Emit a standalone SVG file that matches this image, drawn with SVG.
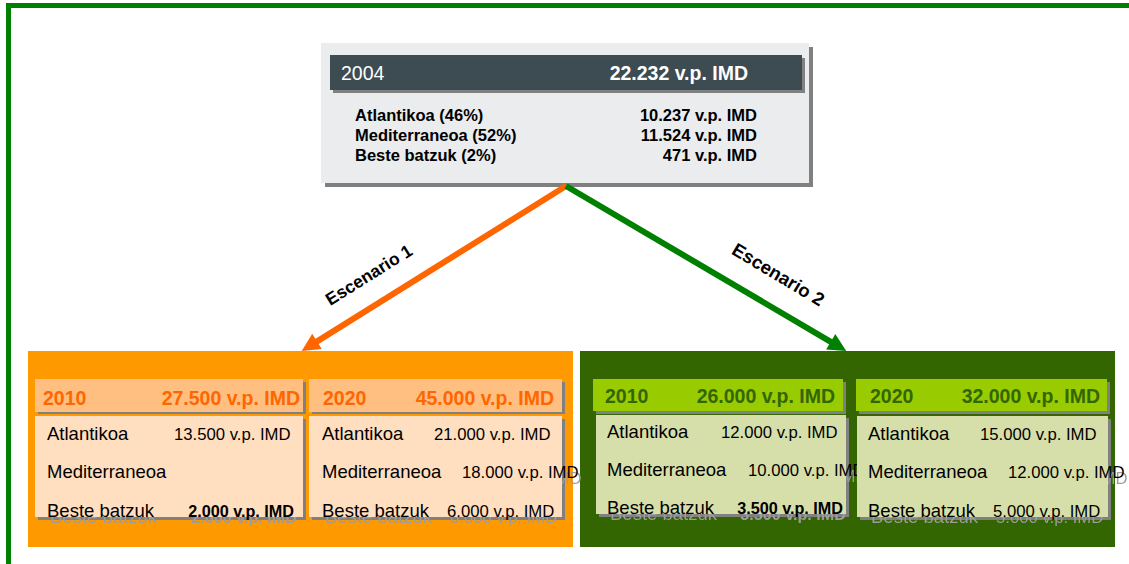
<svg xmlns="http://www.w3.org/2000/svg" width="1129" height="564" viewBox="0 0 1129 564">
<style>
text{font-family:"Liberation Sans",Arial,sans-serif}
.sh{fill:#808080}
.hd{font-size:19.5px;font-weight:bold}
.ho{fill:#ff6600}
.hg{fill:#336600}
.lb{font-size:18.5px;fill:#000}
.vl{font-size:16.7px;fill:#000}
.vb{font-size:16.2px;font-weight:bold;fill:#000}
.end{text-anchor:end}
.row{font-size:16.5px;font-weight:bold;fill:#000}
.lab{font-weight:bold;fill:#000;text-anchor:middle}
</style>
<defs>
<marker id="ao" viewBox="0 0 10 10" refX="3.33" refY="5" markerWidth="3.5" markerHeight="3" orient="auto" markerUnits="strokeWidth"><path d="M0,0 L10,5 L0,10 z" fill="#ff6600"/></marker>
<marker id="ag" viewBox="0 0 10 10" refX="3.33" refY="5" markerWidth="3.5" markerHeight="3" orient="auto" markerUnits="strokeWidth"><path d="M0,0 L10,5 L0,10 z" fill="#008000"/></marker>
<filter id="ghost" x="-10%" y="-20%" width="130%" height="150%">
<feOffset in="SourceAlpha" dx="3" dy="6" result="o"/>
<feFlood flood-color="#9c9c9c"/>
<feComposite in2="o" operator="in"/>
</filter>
</defs>
<rect width="1129" height="564" fill="#ffffff"/>
<g id="frame" fill="#008000">
<rect x="6" y="3" width="1123" height="5"/>
<rect x="6" y="3" width="5" height="561"/>
</g>
<g id="node-2004">
<rect class="sh" x="325" y="47" width="488" height="140"/>
<rect x="321" y="43" width="488" height="140" fill="#ebecee"/>
<rect class="sh" x="333" y="58" width="472" height="35"/>
<rect x="330" y="55" width="472" height="35" fill="#3d4b53"/>
<text x="341" y="80" font-size="19.5" fill="#ffffff">2004</text>
<text class="hd end" x="748" y="80" fill="#ffffff">22.232 v.p. IMD</text>
<text class="row" x="355" y="121">Atlantikoa (46%)</text>
<text class="row end" x="757" y="121">10.237 v.p. IMD</text>
<text class="row" x="355" y="141">Mediterraneoa (52%)</text>
<text class="row end" x="757" y="141">11.524 v.p. IMD</text>
<text class="row" x="355" y="161">Beste batzuk (2%)</text>
<text class="row end" x="757" y="161">471 v.p. IMD</text>
</g>
<g id="scenario1-container"><rect x="28" y="351" width="545" height="196" fill="#ff9900"/></g>
<g id="scenario2-container"><rect x="580" y="351" width="535" height="196" fill="#336600"/></g>
<g id="s1-2010">
<rect class="sh" x="38" y="382" width="268" height="32"/>
<rect x="35" y="379" width="268" height="33" fill="#ffbf80"/>
<text class="hd ho" x="43" y="405">2010</text>
<text class="hd ho end" x="300" y="405">27.500 v.p. IMD</text>
<rect class="sh" x="38" y="419" width="268" height="101"/>
<use href="#t1" filter="url(#ghost)"/>
<rect x="35" y="416" width="268" height="101" fill="#ffdfbf"/>
<g id="t1">
<text class="lb" x="47" y="440">Atlantikoa</text>
<text class="vl" x="174" y="440">13.500 v.p. IMD</text>
<text class="lb" x="47" y="478">Mediterraneoa</text>
<text class="lb" x="47" y="517">Beste batzuk</text>
<text class="vb end" x="294" y="517">2.000 v.p. IMD</text>
</g>
</g>
<g id="s1-2020">
<rect class="sh" x="312" y="382" width="253" height="32"/>
<rect x="309" y="379" width="253" height="33" fill="#ffbf80"/>
<text class="hd ho" x="323" y="405">2020</text>
<text class="hd ho end" x="554" y="405">45.000 v.p. IMD</text>
<rect class="sh" x="312" y="419" width="253" height="101"/>
<use href="#t2" filter="url(#ghost)"/>
<rect x="309" y="416" width="253" height="101" fill="#ffdfbf"/>
<g id="t2">
<text class="lb" x="322" y="440">Atlantikoa</text>
<text class="vl" x="434" y="440">21.000 v.p. IMD</text>
<text class="lb" x="322" y="478">Mediterraneoa</text>
<text class="vl" x="462" y="478">18.000 v.p. IMD</text>
<text class="lb" x="322" y="517">Beste batzuk</text>
<text class="vl" x="447" y="517">6.000 v.p. IMD</text>
</g>
</g>
<g id="s2-2010">
<rect class="sh" x="596" y="382" width="250" height="32"/>
<rect x="593" y="379" width="250" height="32" fill="#99cc00"/>
<text class="hd hg" x="605" y="403">2010</text>
<text class="hd hg end" x="835" y="403">26.000 v.p. IMD</text>
<rect class="sh" x="599" y="418" width="250" height="99"/>
<use href="#t3" filter="url(#ghost)"/>
<rect x="596" y="415" width="250" height="99" fill="#d6dfa9"/>
<g id="t3">
<text class="lb" x="607" y="438">Atlantikoa</text>
<text class="vl" x="721" y="438">12.000 v.p. IMD</text>
<text class="lb" x="607" y="476">Mediterraneoa</text>
<text class="vl" x="748" y="476">10.000 v.p. IMD</text>
<text class="lb" x="607" y="514">Beste batzuk</text>
<text class="vb end" x="843" y="514">3.500 v.p. IMD</text>
</g>
</g>
<g id="s2-2020">
<rect class="sh" x="859" y="382" width="251" height="32"/>
<rect x="856" y="379" width="251" height="32" fill="#99cc00"/>
<text class="hd hg" x="870" y="403">2020</text>
<text class="hd hg end" x="1100" y="403">32.000 v.p. IMD</text>
<rect class="sh" x="860" y="419" width="251" height="101"/>
<use href="#t4" filter="url(#ghost)"/>
<rect x="857" y="416" width="251" height="101" fill="#d6dfa9"/>
<g id="t4">
<text class="lb" x="868" y="440">Atlantikoa</text>
<text class="vl" x="980" y="440">15.000 v.p. IMD</text>
<text class="lb" x="868" y="478">Mediterraneoa</text>
<text class="vl" x="1008" y="478">12.000 v.p. IMD</text>
<text class="lb" x="868" y="517">Beste batzuk</text>
<text class="vl" x="993" y="517">5.000 v.p. IMD</text>
</g>
</g>
<g id="connectors" fill="none" stroke-width="6">
<line x1="566" y1="186" x2="311.9" y2="344.6" stroke="#ff6600" marker-end="url(#ao)"/>
<line x1="566" y1="186" x2="835.9" y2="344.9" stroke="#008000" marker-end="url(#ag)"/>
<text class="lab" font-size="17.5" transform="translate(372,280) rotate(-32)">Escenario 1</text>
<text class="lab" font-size="18.5" transform="translate(775,280) rotate(31)">Escenario 2</text>
</g>
</svg>
